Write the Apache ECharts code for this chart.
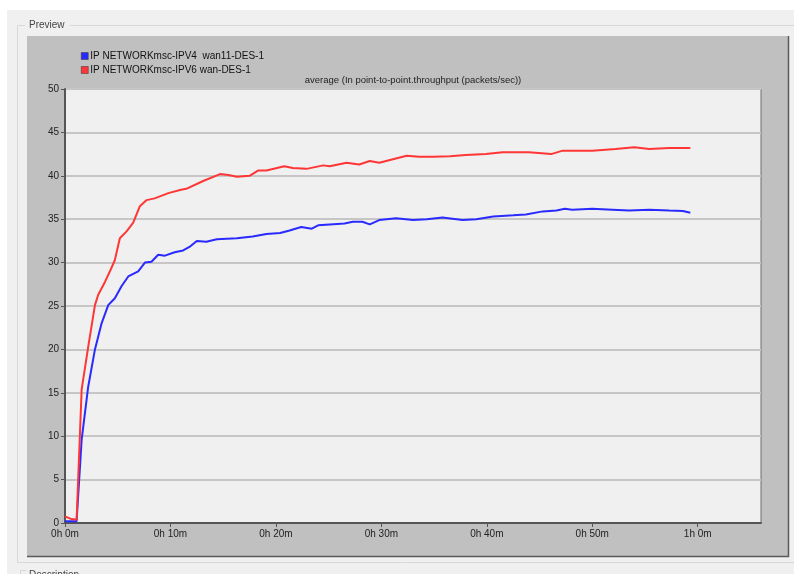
<!DOCTYPE html>
<html>
<head>
<meta charset="utf-8">
<script src="https://cdn.jsdelivr.net/npm/echarts@6/dist/echarts.min.js"></script>
<style>
  html, body { margin: 0; padding: 0; background: #f0f0f0; }
  #chart { width: 794px; height: 574px; }
</style>
</head>
<body>
<div id="chart"></div>
<script>
  // simulation time in minutes, average throughput (packets/sec)
  var ipv4Minutes = [0, 1.1, 1.58, 2.2, 2.84, 3.47, 4.1, 4.73, 5.37, 6.0, 6.94, 7.58, 8.2, 8.84, 9.47, 10.4, 11.2, 11.8, 12.5, 13.4, 14.4, 16.3, 17.8, 19.1, 20.4, 21.3, 22.4, 23.4, 24.0, 25.1, 26.5, 27.3, 28.2, 28.9, 29.8, 31.4, 33.0, 34.3, 35.8, 37.7, 39.0, 40.6, 41.8, 42.5, 43.7, 45.3, 46.6, 47.4, 48.1, 50.0, 51.9, 53.5, 55.4, 57.3, 58.6, 59.3];
  var ipv4Values = [0.2, 0.2, 9.6, 15.7, 20.0, 23.0, 25.1, 25.9, 27.3, 28.4, 29.0, 30.0, 30.1, 30.9, 30.8, 31.2, 31.4, 31.8, 32.5, 32.4, 32.7, 32.8, 33.0, 33.3, 33.4, 33.7, 34.1, 33.9, 34.3, 34.4, 34.5, 34.7, 34.7, 34.4, 34.9, 35.1, 34.9, 35.0, 35.2, 34.9, 35.0, 35.3, 35.4, 35.45, 35.55, 35.9, 36.0, 36.2, 36.1, 36.2, 36.1, 36.0, 36.1, 36.0, 35.95, 35.75];

  var ipv6Minutes = [0, 0.5, 1.1, 1.58, 2.2, 2.84, 3.15, 3.8, 4.26, 4.73, 5.2, 5.84, 6.47, 7.1, 7.74, 8.5, 9.8, 11.0, 11.5, 13.1, 14.7, 15.5, 16.3, 17.5, 18.3, 19.1, 20.8, 21.6, 22.9, 24.5, 25.1, 26.7, 27.9, 28.9, 29.8, 31.1, 32.4, 33.6, 34.9, 36.5, 38.0, 39.9, 41.5, 43.1, 44.0, 46.1, 47.2, 50.0, 52.2, 54.0, 55.4, 57.3, 59.3];
  var ipv6Values = [0.76, 0.5, 0.38, 15.4, 20.3, 25.1, 26.3, 27.8, 29.0, 30.3, 32.8, 33.6, 34.6, 36.5, 37.2, 37.4, 38.0, 38.4, 38.5, 39.4, 40.2, 40.1, 39.9, 40.0, 40.6, 40.6, 41.1, 40.9, 40.8, 41.2, 41.1, 41.5, 41.3, 41.7, 41.5, 41.9, 42.3, 42.2, 42.2, 42.25, 42.4, 42.5, 42.7, 42.7, 42.7, 42.5, 42.9, 42.9, 43.1, 43.3, 43.1, 43.2, 43.2];

  var seriesNames = ['IP NETWORKmsc-IPV4  wan11-DES-1', 'IP NETWORKmsc-IPV6 wan-DES-1'];
  var chartTitle = 'average (In point-to-point.throughput (packets/sec))';
  var timeTicks = [0, 10, 20, 30, 40, 50, 60];

  function pairs (xs, ys) {
    var out = [];
    for (var i = 0; i < xs.length; i++) out.push([xs[i], ys[i]]);
    return out;
  }

  function timeLabel (v) {
    if (v % 10 !== 0) return '';
    var h = Math.floor(v / 60);
    var m = v % 60;
    return h + 'h ' + m + 'm';
  }

  var chart = echarts.init(document.getElementById('chart'));
  var font = 'Liberation Sans, Arial, sans-serif';

  var option = {
    animation: false,
    backgroundColor: '#f0f0f0',
    textStyle: { fontFamily: font },
    graphic: {
      elements: [
        // window chrome
        { type: 'rect', z: -20, shape: { x: 0, y: 0, width: 794, height: 10 }, style: { fill: '#ffffff' } },
        { type: 'rect', z: -20, shape: { x: 0, y: 0, width: 7, height: 574 }, style: { fill: '#ffffff' } },
        { type: 'polyline', z: -20, shape: { points: [[70, 25.5], [794, 25.5]] }, style: { stroke: '#d8d8d8', lineWidth: 1 } },
        { type: 'polyline', z: -20, shape: { points: [[25, 25.5], [17.5, 25.5], [17.5, 562.5], [794, 562.5]] }, style: { stroke: '#d8d8d8', lineWidth: 1 } },
        { type: 'text', z: -20, x: 29, y: 20, style: { text: 'Preview', fill: '#444', font: '10px ' + font } },
        { type: 'polyline', z: -20, shape: { points: [[20.5, 574], [20.5, 570.5], [26, 570.5]] }, style: { stroke: '#d8d8d8', lineWidth: 1 } },
        { type: 'text', z: -20, x: 29, y: 570, style: { text: 'Description', fill: '#444', font: '10px ' + font } },
        // gray panel
        { type: 'rect', z: -15, shape: { x: 27, y: 36, width: 762, height: 521 }, style: { fill: '#c0c0c0' } },
        { type: 'polyline', z: -14, shape: { points: [[788.5, 36], [788.5, 556.5], [27, 556.5]] }, style: { stroke: '#5a5a5a', lineWidth: 1.5 } },
        { type: 'text', z: 5, x: 413, y: 75, style: { text: chartTitle, fill: '#222', font: '9.5px ' + font, textAlign: 'center' } }
      ]
    },
    legend: {
      orient: 'vertical',
      left: 76,
      top: 46,
      icon: 'rect',
      itemWidth: 7,
      itemHeight: 7,
      itemGap: 4,
      textStyle: { fontSize: 10, color: '#111', fontFamily: font, padding: [0, 0, 0, -3] },
      itemStyle: { borderColor: '#333', borderWidth: 0.5 },
      data: seriesNames
    },
    grid: {
      left: 65,
      top: 89,
      right: 33,
      bottom: 51,
      show: true,
      backgroundColor: '#f0f0f0',
      borderColor: '#6e6e6e',
      borderWidth: 1
    },
    xAxis: {
      type: 'value',
      min: 0,
      max: 66,
      interval: 10,
      axisLine: { show: true, lineStyle: { color: '#555', width: 2 } },
      axisTick: { show: true, length: 4, customValues: timeTicks, lineStyle: { color: '#555' } },
      axisLabel: { formatter: timeLabel, customValues: timeTicks, color: '#222', fontSize: 10, margin: 6, fontFamily: font },
      splitLine: { show: false }
    },
    yAxis: {
      type: 'value',
      min: 0,
      max: 50,
      interval: 5,
      axisLine: { show: true, lineStyle: { color: '#555', width: 2 } },
      axisTick: { show: true, length: 4, lineStyle: { color: '#555' } },
      axisLabel: { color: '#222', fontSize: 10, margin: 6, fontFamily: font },
      splitLine: { show: true, lineStyle: { color: '#c6c6c6', width: 2 } }
    },
    series: [
      {
        name: seriesNames[0],
        type: 'line',
        data: pairs(ipv4Minutes, ipv4Values),
        showSymbol: false,
        itemStyle: { color: '#2a2aff' },
        lineStyle: { color: '#2a2aff', width: 2 }
      },
      {
        name: seriesNames[1],
        type: 'line',
        data: pairs(ipv6Minutes, ipv6Values),
        showSymbol: false,
        itemStyle: { color: '#ff3636' },
        lineStyle: { color: '#ff3636', width: 2 }
      }
    ]
  };
  option && chart.setOption(option);
</script>
</body>
</html>
